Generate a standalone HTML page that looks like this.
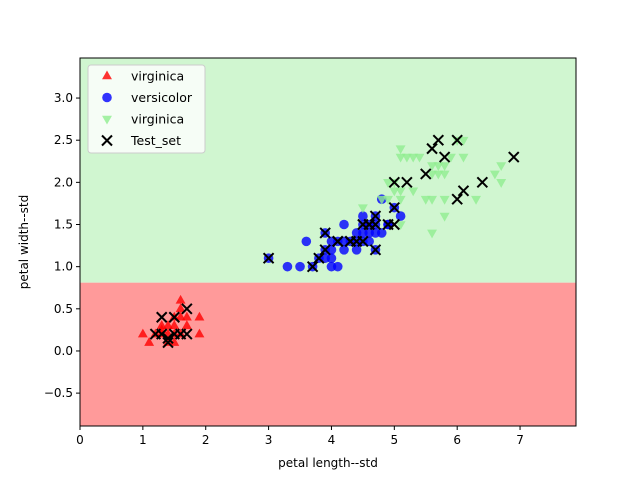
<!DOCTYPE html>
<html><head><meta charset="utf-8"><style>
body{margin:0;background:#fff}
svg{display:block;font-family:"DejaVu Sans","Liberation Sans",sans-serif}
</style></head><body>
<svg id="chart" width="640" height="480" viewBox="0 0 640 480" xmlns="http://www.w3.org/2000/svg"></svg>
<script>
const xTicks=[0,1,2,3,4,5,6,7];
const yTicks=[-0.5,0.0,0.5,1.0,1.5,2.0,2.5,3.0];
const yTickLabels=["−0.5","0.0","0.5","1.0","1.5","2.0","2.5","3.0"];
const boundary=0.81;
const setosaX=[1.0,1.1,1.3,1.3,1.4,1.5,1.5,1.6,1.6,1.7,1.7,1.9,1.9,1.4,1.5,1.2,1.6,1.4,1.3,1.5,1.6];
const setosaY=[0.2,0.1,0.3,0.2,0.2,0.2,0.1,0.6,0.4,0.4,0.3,0.4,0.2,0.3,0.4,0.2,0.2,0.1,0.25,0.3,0.5];
const versiX=[3.0,3.3,3.5,3.7,4.0,4.1,3.6,3.9,3.9,3.8,4.0,4.1,4.2,4.3,4.4,4.0,4.2,4.4,4.7,3.9,4.4,4.6,4.7,4.2,4.5,4.6,4.7,4.9,4.5,4.7,5.1,4.8,4.8,4.5,4.6,4.0,5.0,4.9,4.5];
const versiY=[1.1,1.0,1.0,1.0,1.0,1.0,1.3,1.1,1.2,1.1,1.3,1.3,1.3,1.3,1.3,1.2,1.2,1.2,1.2,1.4,1.4,1.4,1.4,1.5,1.5,1.5,1.5,1.5,1.6,1.6,1.6,1.8,1.4,1.3,1.3,1.1,1.7,1.5,1.4];
const virgX=[5.1,5.1,5.2,5.3,5.4,6.1,6.1,5.6,5.7,5.8,5.9,5.6,5.8,4.9,5.0,5.0,5.1,5.3,4.8,4.9,5.1,5.5,5.6,5.8,6.3,4.5,5.8,5.1,5.6,6.6,6.7,6.7,5.7,6.0];
const virgY=[2.4,2.3,2.3,2.3,2.3,2.3,2.5,2.2,2.2,2.2,2.3,2.1,2.1,2.0,2.0,1.9,1.9,1.9,1.8,1.8,1.8,1.8,1.8,1.8,1.8,1.7,1.6,1.5,1.4,2.1,2.2,2.0,2.1,2.5];
const testX=[1.3,1.5,1.7,1.2,1.3,1.4,1.5,1.6,1.7,1.4,3.0,3.7,3.8,3.9,3.9,4.1,4.3,4.4,4.5,4.6,4.7,4.7,4.7,4.9,4.5,4.1,4.3,5.7,6.0,5.6,5.8,6.9,5.5,5.0,5.2,6.4,6.1,6.0,5.0,5.0,4.6];
const testY=[0.4,0.4,0.5,0.2,0.2,0.1,0.2,0.2,0.2,0.15,1.1,1.0,1.1,1.2,1.4,1.3,1.3,1.3,1.5,1.5,1.5,1.6,1.2,1.5,1.3,1.3,1.3,2.5,2.5,2.4,2.3,2.3,2.1,2.0,2.0,2.0,1.9,1.8,1.7,1.5,1.5];

const L=80,R=576,T=58,B=426,xmin=0,xmax=7.89,ymin=-0.89,ymax=3.475;
const sx=v=>L+(v-xmin)/(xmax-xmin)*(R-L);
const sy=v=>B-(v-ymin)/(ymax-ymin)*(B-T);
const svg=document.getElementById('chart');
const NS='http://www.w3.org/2000/svg';
function mk(tag,attrs,parent){const e=document.createElementNS(NS,tag);for(const k in attrs)e.setAttribute(k,attrs[k]);(parent||svg).appendChild(e);return e;}

let r=mk('rect',{x:L,y:T,width:R-L,height:sy(boundary)-T,fill:'#d0f6d0'});


r=mk('rect',{x:L,y:sy(boundary),width:R-L,height:B-sy(boundary),fill:'#ff9a9a'});



const tri=(x,y,s,up)=>up?`M${x},${y-s} L${x+s*0.9},${y+s*0.6} L${x-s*0.9},${y+s*0.6}Z`:`M${x},${y+s} L${x+s*0.9},${y-s*0.6} L${x-s*0.9},${y-s*0.6}Z`;
const g1=mk('g',{});


setosaX.forEach((v,i)=>{const p=mk('path',{d:tri(sx(v),sy(setosaY[i]),5.5,true),fill:'#ff0000','fill-opacity':0.8},g1);

});
const g2=mk('g',{});


versiX.forEach((v,i)=>{const p=mk('circle',{cx:sx(v),cy:sy(versiY[i]),r:4.8,fill:'#0000ff','fill-opacity':0.8},g2);

});
const g3=mk('g',{});


virgX.forEach((v,i)=>{const p=mk('path',{d:tri(sx(v),sy(virgY[i]),5.5,false),fill:'#90ee90','fill-opacity':0.8},g3);

});
const g4=mk('g',{stroke:'#000','stroke-width':2});


testX.forEach((v,i)=>{const x=sx(v),y=sy(testY[i]),s=5;const p=mk('path',{d:`M${x-s},${y-s}L${x+s},${y+s}M${x-s},${y+s}L${x+s},${y-s}`},g4);

});

const fr=mk('rect',{x:L,y:T,width:R-L,height:B-T,fill:'none',stroke:'#000','stroke-width':1});



xTicks.forEach(v=>{const x=sx(v);mk('line',{x1:x,x2:x,y1:B,y2:B+4,stroke:'#000'});
const t=mk('text',{x:x,y:B+18,'text-anchor':'middle','font-size':12});t.textContent=v;

});
yTicks.forEach((v,i)=>{const y=sy(v);mk('line',{x1:L-4,x2:L,y1:y,y2:y,stroke:'#000'});
const t=mk('text',{x:L-7,y:y+4,'text-anchor':'end','font-size':12});t.textContent=yTickLabels[i];

});
let t=mk('text',{x:(L+R)/2,y:467,'text-anchor':'middle','font-size':12});t.textContent='petal length--std';


t=mk('text',{x:28,y:(T+B)/2,'text-anchor':'middle','font-size':12,transform:`rotate(-90 28 ${(T+B)/2})`});t.textContent='petal width--std';



const lg=mk('g',{});


mk('rect',{x:88,y:65,width:117,height:88,rx:3,fill:'#fff','fill-opacity':0.8,stroke:'#ccc'},lg);
const labels=['virginica','versicolor','virginica','Test_set'];
labels.forEach((s,i)=>{const y=76+i*21.5;const mx=107;
let m;
if(i==0)m=mk('path',{d:tri(mx,y,5.5,true),fill:'#ff0000','fill-opacity':0.8},lg);
if(i==1)m=mk('circle',{cx:mx,cy:y,r:4.8,fill:'#0000ff','fill-opacity':0.8},lg);
if(i==2)m=mk('path',{d:tri(mx,y,5.5,false),fill:'#90ee90','fill-opacity':0.8},lg);
if(i==3)m=mk('path',{d:`M${mx-5},${y-5}L${mx+5},${y+5}M${mx-5},${y+5}L${mx+5},${y-5}`,stroke:'#000','stroke-width':2},lg);
const tx=mk('text',{x:131,y:y+4.5,'font-size':12.5},lg);tx.textContent=s;

});
</script>
</body></html>
